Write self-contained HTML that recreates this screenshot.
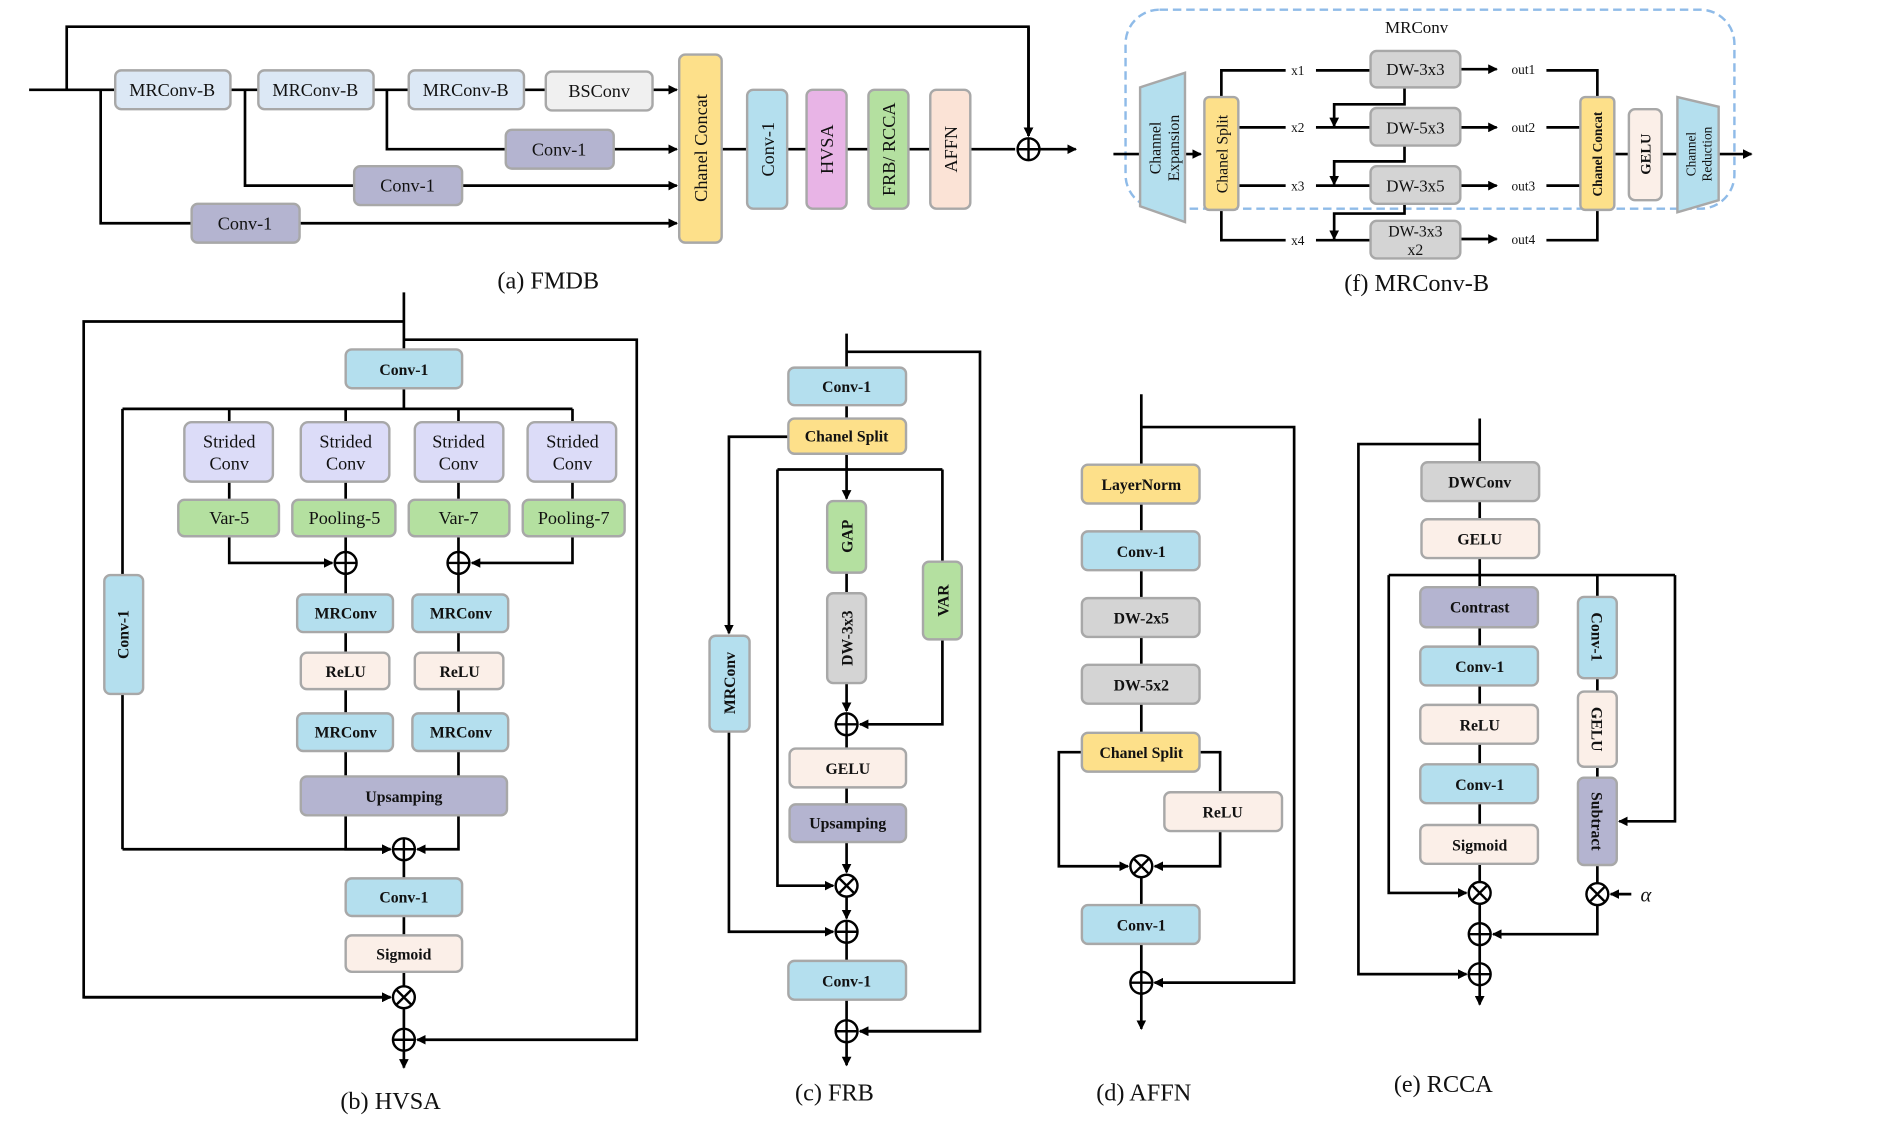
<!DOCTYPE html>
<html><head><meta charset="utf-8"><style>
html,body{margin:0;padding:0;background:#fff;}
svg{display:block;}
text{font-family:"Liberation Serif",serif;fill:#111;}
.b{font-weight:bold;font-size:13px;}
.n{font-size:15px;}
.cap{font-size:20px;}
.l{stroke:#000;stroke-width:2.2;fill:none;}
.bx{stroke:#a8a8a8;stroke-width:2;}
</style></head><body>
<svg width="1903" height="1138" viewBox="0 0 1569 938" preserveAspectRatio="none" xmlns="http://www.w3.org/2000/svg">
<defs>
<marker id="a" markerWidth="8" markerHeight="8" refX="7" refY="4" orient="auto" markerUnits="userSpaceOnUse"><path d="M0,0 L8,4 L0,8 z" fill="#000"/></marker>
<g id="p"><circle r="9" fill="#fff" stroke="#000" stroke-width="2"/><path d="M-9,0H9M0,-9V9" stroke="#000" stroke-width="2"/></g>
<g id="t"><circle r="9" fill="#fff" stroke="#000" stroke-width="2"/><path d="M-6.3,-6.3L6.3,6.3M-6.3,6.3L6.3,-6.3" stroke="#000" stroke-width="2"/></g>
</defs>

<!-- (a) FMDB -->
<path class="l" d="M24,74H95 M55,74V22H848V112" marker-end="url(#a)"/>
<path class="l" d="M848,22V112" marker-end="url(#a)"/>
<path class="l" d="M190,74H213 M308,74H337 M432,74H450"/>
<path class="l" d="M538,74H558" marker-end="url(#a)"/>
<path class="l" d="M319,74V123H417"/><path class="l" d="M506,123H558" marker-end="url(#a)"/>
<path class="l" d="M202,74V153H292"/><path class="l" d="M381,153H558" marker-end="url(#a)"/>
<path class="l" d="M83,74V184H158"/><path class="l" d="M247,184H558" marker-end="url(#a)"/>
<path class="l" d="M595,123H837"/><path class="l" d="M857,123H887" marker-end="url(#a)"/>
<rect class="bx" x="95" y="58" width="95" height="32" rx="5" fill="#dce8f5"/><text class="n" x="142" y="79" text-anchor="middle">MRConv-B</text>
<rect class="bx" x="213" y="58" width="95" height="32" rx="5" fill="#dce8f5"/><text class="n" x="260" y="79" text-anchor="middle">MRConv-B</text>
<rect class="bx" x="337" y="58" width="95" height="32" rx="5" fill="#dce8f5"/><text class="n" x="384" y="79" text-anchor="middle">MRConv-B</text>
<rect class="bx" x="450" y="59" width="88" height="32" rx="5" fill="#f0f0f0"/><text class="n" x="494" y="80" text-anchor="middle">BSConv</text>
<rect class="bx" x="417" y="107" width="89" height="32" rx="5" fill="#b4b4d0"/><text class="n" x="461" y="128" text-anchor="middle">Conv-1</text>
<rect class="bx" x="292" y="137" width="89" height="32" rx="5" fill="#b4b4d0"/><text class="n" x="336" y="158" text-anchor="middle">Conv-1</text>
<rect class="bx" x="158" y="168" width="89" height="32" rx="5" fill="#b4b4d0"/><text class="n" x="202" y="189" text-anchor="middle">Conv-1</text>
<rect class="bx" x="560" y="45" width="35" height="155" rx="5" fill="#fde08a"/><text class="n" transform="translate(583,122) rotate(-90)" text-anchor="middle">Chanel Concat</text>
<rect class="bx" x="616" y="74" width="33" height="98" rx="5" fill="#b4dfee"/><text class="n" transform="translate(638,123) rotate(-90)" text-anchor="middle">Conv-1</text>
<rect class="bx" x="665" y="74" width="33" height="98" rx="5" fill="#e8b4e6"/><text class="n" transform="translate(687,123) rotate(-90)" text-anchor="middle">HVSA</text>
<rect class="bx" x="716" y="74" width="33" height="98" rx="5" fill="#b4e0a0"/><text class="n" transform="translate(738,123) rotate(-90)" text-anchor="middle">FRB/ RCCA</text>
<rect class="bx" x="767" y="74" width="33" height="98" rx="5" fill="#fbe3d6"/><text class="n" transform="translate(789,123) rotate(-90)" text-anchor="middle">AFFN</text>
<use href="#p" x="848" y="123"/>
<text class="cap" x="452" y="238" text-anchor="middle">(a) FMDB</text>

<!-- (f) MRConv-B -->
<rect x="928" y="8" width="502" height="164" rx="28" fill="none" stroke="#8fbbe8" stroke-width="2" stroke-dasharray="7,4"/>
<text class="n" x="1168" y="27" text-anchor="middle" style="font-size:14px">MRConv</text>
<path class="l" d="M918,127H990" marker-end="url(#a)"/>
<polygon points="940,72 977,60 977,183 940,170" fill="#b4dfee" stroke="#a8a8a8" stroke-width="2"/>
<text class="n" transform="translate(957,122) rotate(-90)" text-anchor="middle" style="font-size:13px">Channel</text>
<text class="n" transform="translate(972,122) rotate(-90)" text-anchor="middle" style="font-size:13px">Expansion</text>
<path class="l" d="M1007,80V58H1060 M1085,58H1130 M1021,105H1060 M1085,105H1130 M1021,153H1060 M1085,153H1130 M1007,173V198H1060 M1085,198H1130"/>
<path class="l" d="M1204,57H1234" marker-end="url(#a)"/>
<path class="l" d="M1204,105H1234" marker-end="url(#a)"/>
<path class="l" d="M1204,153H1234" marker-end="url(#a)"/>
<path class="l" d="M1204,197H1234" marker-end="url(#a)"/>
<path class="l" d="M1158,72V86H1100V104" marker-end="url(#a)"/>
<path class="l" d="M1158,120V133H1100V152" marker-end="url(#a)"/>
<path class="l" d="M1158,168V176H1100V197" marker-end="url(#a)"/>
<path class="l" d="M1275,58H1317V80 M1275,105H1303 M1275,153H1303 M1275,198H1317V173 M1331,127H1343 M1370,127H1383"/>
<path class="l" d="M1417,127H1444" marker-end="url(#a)"/>
<text x="1070" y="62" text-anchor="middle" style="font-size:11px">x1</text>
<text x="1070" y="109" text-anchor="middle" style="font-size:11px">x2</text>
<text x="1070" y="157" text-anchor="middle" style="font-size:11px">x3</text>
<text x="1070" y="202" text-anchor="middle" style="font-size:11px">x4</text>
<text x="1256" y="61" text-anchor="middle" style="font-size:11px">out1</text>
<text x="1256" y="109" text-anchor="middle" style="font-size:11px">out2</text>
<text x="1256" y="157" text-anchor="middle" style="font-size:11px">out3</text>
<text x="1256" y="201" text-anchor="middle" style="font-size:11px">out4</text>
<rect class="bx" x="993" y="80" width="28" height="93" rx="4" fill="#fde08a"/><text class="n" transform="translate(1012,127) rotate(-90)" text-anchor="middle" style="font-size:13px">Chanel Split</text>
<rect class="bx" x="1130" y="42" width="74" height="30" rx="5" fill="#d4d4d4"/><text class="n" x="1167" y="62" text-anchor="middle" style="font-size:14px">DW-3x3</text>
<rect class="bx" x="1130" y="89" width="74" height="31" rx="5" fill="#d4d4d4"/><text class="n" x="1167" y="110" text-anchor="middle" style="font-size:14px">DW-5x3</text>
<rect class="bx" x="1130" y="137" width="74" height="31" rx="5" fill="#d4d4d4"/><text class="n" x="1167" y="158" text-anchor="middle" style="font-size:14px">DW-3x5</text>
<rect class="bx" x="1130" y="182" width="74" height="31" rx="5" fill="#d4d4d4"/><text class="n" x="1167" y="195" text-anchor="middle" style="font-size:13px">DW-3x3</text><text class="n" x="1167" y="210" text-anchor="middle" style="font-size:13px">x2</text>
<rect class="bx" x="1303" y="80" width="28" height="93" rx="4" fill="#fde08a"/><text class="b" transform="translate(1321,127) rotate(-90)" text-anchor="middle" style="font-size:11px">Chanel Concat</text>
<rect class="bx" x="1343" y="90" width="27" height="75" rx="5" fill="#fbefe8"/><text class="b" transform="translate(1361,127) rotate(-90)" text-anchor="middle" style="font-size:12px">GELU</text>
<polygon points="1383,80 1417,88 1417,165 1383,175" fill="#b4dfee" stroke="#a8a8a8" stroke-width="2"/>
<text transform="translate(1398,127) rotate(-90)" text-anchor="middle" style="font-size:11px">Channel</text>
<text transform="translate(1411,127) rotate(-90)" text-anchor="middle" style="font-size:11px">Reduction</text>
<text class="cap" x="1168" y="240" text-anchor="middle">(f) MRConv-B</text>

<!-- (b) HVSA -->
<path class="l" d="M333,241V288 M333,265H69V822H322" marker-end="url(#a)"/>
<path class="l" d="M69,822H322" marker-end="url(#a)"/>
<path class="l" d="M333,280H525V857H344" marker-end="url(#a)"/>
<path class="l" d="M333,320V337 M101,337H472 M101,337V700 M189,337V348 M285,337V348 M378,337V348 M472,337V348"/>
<path class="l" d="M101,700H322" marker-end="url(#a)"/>
<path class="l" d="M189,442V464H274" marker-end="url(#a)"/>
<path class="l" d="M472,442V464H389" marker-end="url(#a)"/>
<path class="l" d="M285,442V455 M378,442V455 M189,397V412 M285,397V412 M378,397V412 M472,397V412"/>
<path class="l" d="M285,473V490 M378,473V490 M285,521V538 M378,521V538 M285,568V588 M378,568V588 M285,619V640 M378,619V640"/>
<path class="l" d="M285,672V700H322" marker-end="url(#a)"/>
<path class="l" d="M378,672V700H344" marker-end="url(#a)"/>
<path class="l" d="M333,709V724 M333,755V771 M333,801V813 M333,831V848"/>
<path class="l" d="M333,866V880" marker-end="url(#a)"/>
<rect class="bx" x="285" y="288" width="96" height="32" rx="5" fill="#b4dfee"/><text class="b" x="333" y="309" text-anchor="middle">Conv-1</text>
<rect class="bx" x="152" y="348" width="73" height="49" rx="6" fill="#dcdcf8"/><text class="n" x="189" y="369" text-anchor="middle">Strided</text><text class="n" x="189" y="387" text-anchor="middle">Conv</text>
<rect class="bx" x="248" y="348" width="73" height="49" rx="6" fill="#dcdcf8"/><text class="n" x="285" y="369" text-anchor="middle">Strided</text><text class="n" x="285" y="387" text-anchor="middle">Conv</text>
<rect class="bx" x="342" y="348" width="73" height="49" rx="6" fill="#dcdcf8"/><text class="n" x="378" y="369" text-anchor="middle">Strided</text><text class="n" x="378" y="387" text-anchor="middle">Conv</text>
<rect class="bx" x="435" y="348" width="73" height="49" rx="6" fill="#dcdcf8"/><text class="n" x="472" y="369" text-anchor="middle">Strided</text><text class="n" x="472" y="387" text-anchor="middle">Conv</text>
<rect class="bx" x="147" y="412" width="83" height="30" rx="5" fill="#b4e0a0"/><text class="n" x="189" y="432" text-anchor="middle">Var-5</text>
<rect class="bx" x="241" y="412" width="85" height="30" rx="5" fill="#b4e0a0"/><text class="n" x="284" y="432" text-anchor="middle">Pooling-5</text>
<rect class="bx" x="337" y="412" width="83" height="30" rx="5" fill="#b4e0a0"/><text class="n" x="378" y="432" text-anchor="middle">Var-7</text>
<rect class="bx" x="431" y="412" width="84" height="30" rx="5" fill="#b4e0a0"/><text class="n" x="473" y="432" text-anchor="middle">Pooling-7</text>
<use href="#p" x="285" y="464"/><use href="#p" x="378" y="464"/>
<rect class="bx" x="245" y="490" width="79" height="31" rx="5" fill="#b4dfee"/><text class="b" x="285" y="510" text-anchor="middle">MRConv</text>
<rect class="bx" x="340" y="490" width="79" height="31" rx="5" fill="#b4dfee"/><text class="b" x="380" y="510" text-anchor="middle">MRConv</text>
<rect class="bx" x="248" y="538" width="73" height="30" rx="5" fill="#fbefe8"/><text class="b" x="285" y="558" text-anchor="middle">ReLU</text>
<rect class="bx" x="342" y="538" width="73" height="30" rx="5" fill="#fbefe8"/><text class="b" x="379" y="558" text-anchor="middle">ReLU</text>
<rect class="bx" x="245" y="588" width="79" height="31" rx="5" fill="#b4dfee"/><text class="b" x="285" y="608" text-anchor="middle">MRConv</text>
<rect class="bx" x="340" y="588" width="79" height="31" rx="5" fill="#b4dfee"/><text class="b" x="380" y="608" text-anchor="middle">MRConv</text>
<rect class="bx" x="248" y="640" width="170" height="32" rx="5" fill="#b4b4d0"/><text class="b" x="333" y="661" text-anchor="middle">Upsamping</text>
<rect class="bx" x="86" y="474" width="32" height="98" rx="5" fill="#b4dfee"/><text class="b" transform="translate(106,523) rotate(-90)" text-anchor="middle">Conv-1</text>
<use href="#p" x="333" y="700"/>
<rect class="bx" x="285" y="724" width="96" height="31" rx="5" fill="#b4dfee"/><text class="b" x="333" y="744" text-anchor="middle">Conv-1</text>
<rect class="bx" x="285" y="771" width="96" height="30" rx="5" fill="#fbefe8"/><text class="b" x="333" y="791" text-anchor="middle">Sigmoid</text>
<use href="#t" x="333" y="822"/><use href="#p" x="333" y="857"/>
<text class="cap" x="322" y="914" text-anchor="middle">(b) HVSA</text>

<!-- (c) FRB -->
<path class="l" d="M698,275V303 M698,290H808V850H709" marker-end="url(#a)"/>
<path class="l" d="M808,850H709" marker-end="url(#a)"/>
<path class="l" d="M698,334V345"/>
<path class="l" d="M650,360H601V522" marker-end="url(#a)"/>
<path class="l" d="M601,603V768H687" marker-end="url(#a)"/>
<path class="l" d="M698,374V387 M641,387H777 M777,387V463"/>
<path class="l" d="M641,387V730H687" marker-end="url(#a)"/>
<path class="l" d="M698,387V411" marker-end="url(#a)"/>
<path class="l" d="M698,472V489"/>
<path class="l" d="M698,563V586" marker-end="url(#a)"/>
<path class="l" d="M777,527V597H709" marker-end="url(#a)"/>
<path class="l" d="M698,606V617 M698,649V663"/>
<path class="l" d="M698,694V719" marker-end="url(#a)"/>
<path class="l" d="M698,739V757" marker-end="url(#a)"/>
<path class="l" d="M698,777V792 M698,824V841"/>
<path class="l" d="M698,859V878" marker-end="url(#a)"/>
<rect class="bx" x="650" y="303" width="97" height="31" rx="5" fill="#b4dfee"/><text class="b" x="698" y="323" text-anchor="middle">Conv-1</text>
<rect class="bx" x="650" y="345" width="97" height="29" rx="5" fill="#fde08a"/><text class="b" x="698" y="364" text-anchor="middle">Chanel Split</text>
<rect class="bx" x="585" y="524" width="33" height="79" rx="5" fill="#b4dfee"/><text class="b" transform="translate(606,563) rotate(-90)" text-anchor="middle">MRConv</text>
<rect class="bx" x="682" y="413" width="32" height="59" rx="5" fill="#b4e0a0"/><text class="b" transform="translate(703,442) rotate(-90)" text-anchor="middle">GAP</text>
<rect class="bx" x="682" y="489" width="32" height="74" rx="5" fill="#d4d4d4"/><text class="b" transform="translate(703,526) rotate(-90)" text-anchor="middle">DW-3x3</text>
<rect class="bx" x="761" y="463" width="32" height="64" rx="5" fill="#b4e0a0"/><text class="b" transform="translate(782,495) rotate(-90)" text-anchor="middle">VAR</text>
<use href="#p" x="698" y="597"/>
<rect class="bx" x="651" y="617" width="96" height="32" rx="5" fill="#fbefe8"/><text class="b" x="699" y="638" text-anchor="middle">GELU</text>
<rect class="bx" x="651" y="663" width="96" height="31" rx="5" fill="#b4b4d0"/><text class="b" x="699" y="683" text-anchor="middle">Upsamping</text>
<use href="#t" x="698" y="730"/><use href="#p" x="698" y="768"/>
<rect class="bx" x="650" y="792" width="97" height="32" rx="5" fill="#b4dfee"/><text class="b" x="698" y="813" text-anchor="middle">Conv-1</text>
<use href="#p" x="698" y="850"/>
<text class="cap" x="688" y="907" text-anchor="middle">(c) FRB</text>

<!-- (d) AFFN -->
<path class="l" d="M941,325V383 M941,352H1067V810H952" marker-end="url(#a)"/>
<path class="l" d="M1067,810H952" marker-end="url(#a)"/>
<path class="l" d="M941,415V438 M941,470V493 M941,525V548 M941,580V604"/>
<path class="l" d="M892,620H873V714H930" marker-end="url(#a)"/>
<path class="l" d="M989,620H1006V653 M1006,685V714H952" marker-end="url(#a)"/>
<path class="l" d="M941,723V746 M941,778V801"/>
<path class="l" d="M941,819V848" marker-end="url(#a)"/>
<rect class="bx" x="892" y="383" width="97" height="32" rx="5" fill="#fde08a"/><text class="b" x="941" y="404" text-anchor="middle">LayerNorm</text>
<rect class="bx" x="892" y="438" width="97" height="32" rx="5" fill="#b4dfee"/><text class="b" x="941" y="459" text-anchor="middle">Conv-1</text>
<rect class="bx" x="892" y="493" width="97" height="32" rx="5" fill="#d4d4d4"/><text class="b" x="941" y="514" text-anchor="middle">DW-2x5</text>
<rect class="bx" x="892" y="548" width="97" height="32" rx="5" fill="#d4d4d4"/><text class="b" x="941" y="569" text-anchor="middle">DW-5x2</text>
<rect class="bx" x="892" y="604" width="97" height="32" rx="5" fill="#fde08a"/><text class="b" x="941" y="625" text-anchor="middle">Chanel Split</text>
<rect class="bx" x="960" y="653" width="97" height="32" rx="5" fill="#fbefe8"/><text class="b" x="1008" y="674" text-anchor="middle">ReLU</text>
<use href="#t" x="941" y="714"/>
<rect class="bx" x="892" y="746" width="97" height="32" rx="5" fill="#b4dfee"/><text class="b" x="941" y="767" text-anchor="middle">Conv-1</text>
<use href="#p" x="941" y="810"/>
<text class="cap" x="943" y="907" text-anchor="middle">(d) AFFN</text>

<!-- (e) RCCA -->
<path class="l" d="M1220,345V381 M1220,366H1120V803H1209" marker-end="url(#a)"/>
<path class="l" d="M1120,803H1209" marker-end="url(#a)"/>
<path class="l" d="M1220,413V428 M1220,460V484 M1145,474H1381 M1317,474V492"/>
<path class="l" d="M1145,474V736H1209" marker-end="url(#a)"/>
<path class="l" d="M1381,474V677H1335" marker-end="url(#a)"/>
<path class="l" d="M1220,517V533 M1220,565V581 M1220,613V630 M1220,662V680 M1220,712V727 M1220,745V761 M1220,779V794"/>
<path class="l" d="M1220,812V828" marker-end="url(#a)"/>
<path class="l" d="M1317,559V570 M1317,632V641 M1317,713V728"/>
<path class="l" d="M1317,746V770H1231" marker-end="url(#a)"/>
<path class="l" d="M1345,737H1328" marker-end="url(#a)"/>
<rect class="bx" x="1172" y="381" width="97" height="32" rx="5" fill="#d4d4d4"/><text class="b" x="1220" y="402" text-anchor="middle">DWConv</text>
<rect class="bx" x="1172" y="428" width="97" height="32" rx="5" fill="#fbefe8"/><text class="b" x="1220" y="449" text-anchor="middle">GELU</text>
<rect class="bx" x="1171" y="484" width="97" height="33" rx="5" fill="#b4b4d0"/><text class="b" x="1220" y="505" text-anchor="middle">Contrast</text>
<rect class="bx" x="1171" y="533" width="97" height="32" rx="5" fill="#b4dfee"/><text class="b" x="1220" y="554" text-anchor="middle">Conv-1</text>
<rect class="bx" x="1171" y="581" width="97" height="32" rx="5" fill="#fbefe8"/><text class="b" x="1220" y="602" text-anchor="middle">ReLU</text>
<rect class="bx" x="1171" y="630" width="97" height="32" rx="5" fill="#b4dfee"/><text class="b" x="1220" y="651" text-anchor="middle">Conv-1</text>
<rect class="bx" x="1171" y="680" width="97" height="32" rx="5" fill="#fbefe8"/><text class="b" x="1220" y="701" text-anchor="middle">Sigmoid</text>
<rect class="bx" x="1301" y="492" width="32" height="67" rx="5" fill="#b4dfee"/><text class="b" transform="translate(1312,525) rotate(90)" text-anchor="middle">Conv-1</text>
<rect class="bx" x="1301" y="570" width="32" height="62" rx="5" fill="#fbefe8"/><text class="b" transform="translate(1312,601) rotate(90)" text-anchor="middle">GELU</text>
<rect class="bx" x="1301" y="641" width="32" height="72" rx="5" fill="#b4b4d0"/><text class="b" transform="translate(1312,677) rotate(90)" text-anchor="middle">Subtract</text>
<use href="#t" x="1220" y="736"/><use href="#p" x="1220" y="770"/><use href="#p" x="1220" y="803"/>
<use href="#t" x="1317" y="737"/>
<text x="1357" y="743" text-anchor="middle" style="font-size:17px;font-style:italic">α</text>
<text class="cap" x="1190" y="900" text-anchor="middle">(e) RCCA</text>
</svg>
</body></html>
